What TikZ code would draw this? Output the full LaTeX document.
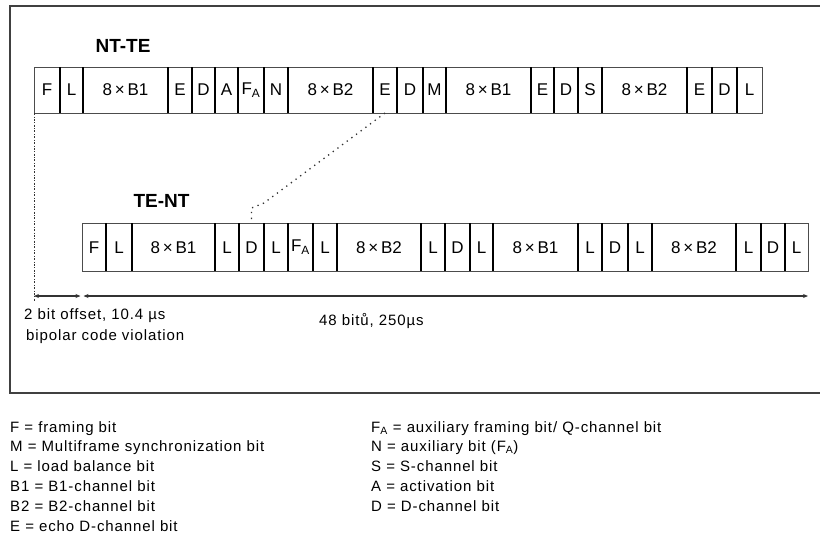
\documentclass[tikz,border=0pt]{standalone}
\usepackage{fontspec}
\setmainfont{Liberation Sans}
\newfontfamily\legfont[LetterSpace=6]{Liberation Sans}
\usetikzlibrary{arrows.meta}
\begin{document}
\begin{tikzpicture}[x=1pt,y=-1pt,
  cell/.style={draw=black!70, line width=1pt, inner sep=0pt, outer sep=0pt, font=\fontsize{17}{20}\selectfont},
  divider/.style={line width=2.3pt, black},
  frame/.style={draw=black!75, line width=1.6pt},
  ttl/.style={font=\fontsize{19}{22}\selectfont\bfseries, inner sep=0pt},
  lab/.style={anchor=base west, inner sep=0pt, font=\fontsize{15}{18}\selectfont\legfont},
  vline/.style={black!80, line width=1pt, dash pattern=on 2pt off 1.5pt on 0.8pt off 1.5pt},
  dotline/.style={black!80, line width=1.3pt, dash pattern=on 1.3pt off 4.5pt},
  dim/.style={{Stealth[length=5pt,width=4pt]}-{Stealth[length=5pt,width=4pt]}, line width=1.2pt, black!80}
]
\useasboundingbox (0,0) rectangle (820,536);
\draw[frame] (10,6) rectangle (840,393);

\node[ttl] (nt) at (123,46) {NT-TE};
\node[ttl] (te) at (161.5,201) {TE-NT};

% top row
\foreach \l/\r/\t [count=\i] in {34/60/F,60/83/L,83/168/8\,×\,B1,168/192/E,192/215/D,215/238/A,238/264/{F\textsubscript{A}},264/288/N,288/373/8\,×\,B2,373/397/E,397/423/D,423/446/M,446/531/8\,×\,B1,531/554/E,554/578/D,578/602/S,602/687/8\,×\,B2,687/712/E,712/737/D,737/762/L}
  \node[cell, minimum width={(\r-\l)*1pt}, minimum height=46pt] (t\i) at ({(\l+\r)/2},90) {\t};
\foreach \i in {2,...,20} \draw[divider] (t\i.north west) -- (t\i.south west);

% bottom row
\foreach \l/\r/\t [count=\i] in {82/106/F,106/132/L,132/215/8\,×\,B1,215/239/L,239/264/D,264/288/L,288/313/{F\textsubscript{A}},313/337/L,337/421/8\,×\,B2,421/445/L,445/470/D,470/493/L,493/578/8\,×\,B1,578/602/L,602/628/D,628/652/L,652/736/8\,×\,B2,736/761/L,761/785/D,785/808/L}
  \node[cell, minimum width={(\r-\l)*1pt}, minimum height=48pt] (b\i) at ({(\l+\r)/2},247.25) {\t};
\foreach \i in {2,...,20} \draw[divider] (b\i.north west) -- (b\i.south west);

% dotted connectors
\coordinate (v1) at (34,302);
\draw[vline] (t1.south west) -- (v1);
\coordinate (k1) at (264,203);
\coordinate (k2) at (251.5,208);
\draw[dotline] (t10.south) -- (k1) -- (k2) -- (b5.north);

% dimension arrows
\coordinate (a0) at (34,296);
\coordinate (a1) at (80.5,296);
\coordinate (a2) at (83.5,296);
\coordinate (a3) at (808,296);
\draw[dim] (a0) -- (a1);
\draw[dim] (a2) -- (a3);

\node[lab] (off) at (24,319) {2 bit offset, 10.4 µs};
\node[lab] (bip) at (26,340) {bipolar code violation};
\node[lab] (bits) at (319,325) {48 bitů, 250µs};

% legend
\node[lab] (l1) at (10,432) {F = framing bit};
\node[lab] (l2) at (10,451) {M = Multiframe synchronization bit};
\node[lab] (l3) at (10,471) {L = load balance bit};
\node[lab] (l4) at (10,491) {B1 = B1-channel bit};
\node[lab] (l5) at (10,511) {B2 = B2-channel bit};
\node[lab] (l6) at (10,531) {E = echo D-channel bit};

\node[lab] (r1) at (371,432) {F\textsubscript{A} = auxiliary framing bit/ Q-channel bit};
\node[lab] (r2) at (371,451) {N = auxiliary bit (F\textsubscript{A})};
\node[lab] (r3) at (371,471) {S = S-channel bit};
\node[lab] (r4) at (371,491) {A = activation bit};
\node[lab] (r5) at (371,511) {D = D-channel bit};
\end{tikzpicture}
\end{document}
